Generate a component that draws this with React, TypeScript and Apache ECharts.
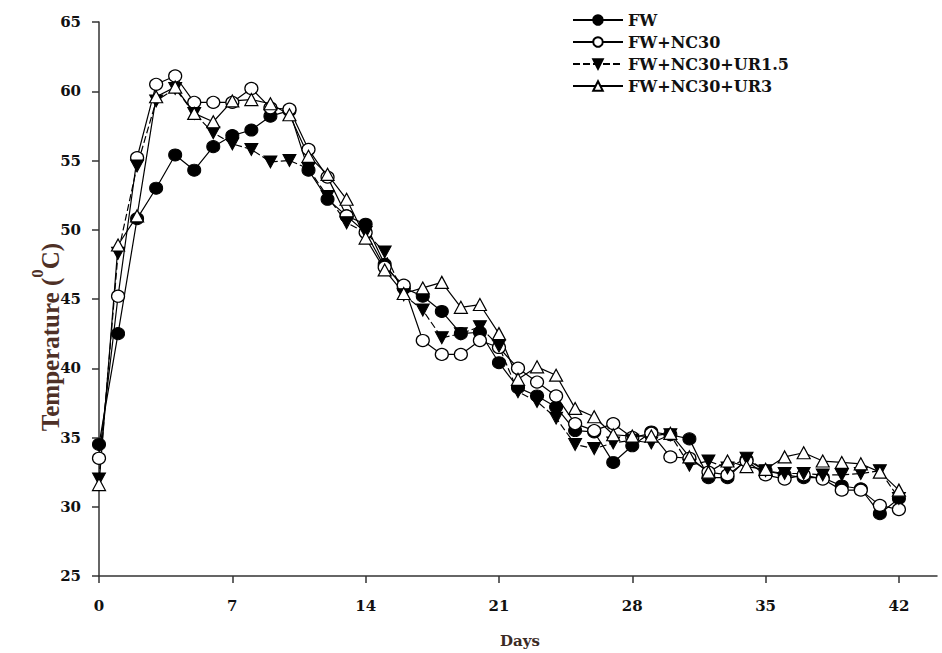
import React, { useEffect, useRef } from "react";
import * as echarts from "echarts";

const days = [0, 1, 2, 3, 4, 5, 6, 7, 8, 9, 10, 11, 12, 13, 14, 15, 16, 17, 18, 19, 20, 21, 22, 23, 24, 25, 26, 27, 28, 29, 30, 31, 32, 33, 34, 35, 36, 37, 38, 39, 40, 41, 42];

const xTicks = [0, 7, 14, 21, 28, 35, 42];

const seriesNames = ["FW", "FW+NC30", "FW+NC30+UR1.5", "FW+NC30+UR3"];

const fw = [34.5, 42.5, 50.8, 53.0, 55.4, 54.3, 56.0, 56.8, 57.2, 58.2, 58.6, 54.3, 52.2, 51.0, 50.4, 47.5, 45.8, 45.2, 44.1, 42.5, 42.6, 40.4, 38.6, 38.0, 37.2, 35.5, 35.4, 33.2, 34.4, 35.4, 35.2, 34.9, 32.1, 32.1, 33.4, 32.6, 32.3, 32.1, 32.1, 31.5, 31.3, 29.5, 30.6];

const fwNc30 = [33.5, 45.2, 55.2, 60.5, 61.1, 59.2, 59.2, 59.2, 60.2, 58.8, 58.7, 55.8, 53.8, 51.0, 49.8, 47.3, 46.0, 42.0, 41.0, 41.0, 42.0, 41.5, 40.0, 39.0, 38.0, 36.0, 35.5, 36.0, 35.0, 35.3, 33.6, 33.5, 32.5, 32.3, 33.3, 32.3, 32.0, 32.3, 32.0, 31.2, 31.2, 30.1, 29.8];

const fwNc30Ur15 = [32.0, 48.3, 54.6, 59.3, 60.2, 58.4, 57.0, 56.2, 55.8, 54.9, 55.0, 54.4, 52.4, 50.5, 49.8, 48.4, 45.3, 44.2, 42.2, 42.5, 43.0, 41.6, 38.3, 37.6, 36.4, 34.5, 34.2, 34.6, 34.8, 34.6, 35.2, 33.0, 33.3, 32.8, 33.5, 32.6, 32.4, 32.4, 32.3, 32.3, 32.4, 32.6, 30.6];

const fwNc30Ur3 = [31.6, 48.9, 51.0, 59.6, 60.3, 58.4, 57.8, 59.3, 59.4, 59.1, 58.3, 55.3, 54.0, 52.2, 49.4, 47.1, 45.4, 45.8, 46.2, 44.4, 44.6, 42.5, 39.2, 40.1, 39.5, 37.1, 36.5, 35.2, 35.1, 35.1, 35.3, 33.6, 32.5, 33.3, 32.9, 32.7, 33.6, 33.9, 33.3, 33.2, 33.1, 32.5, 31.2];

const pairs = (vals: number[]) => days.map((d, i) => [d, vals[i]]);

export default function App() {
  const ref = useRef<HTMLDivElement>(null);

  useEffect(() => {
    if (!ref.current) return;
    const chart = echarts.init(ref.current, undefined, { renderer: "svg" });
    const axisColor = "#333";
    const labelFont = {
      fontFamily: "DejaVu Serif",
      fontWeight: "bold" as const,
      fontSize: 15,
      color: "#111",
    };
    const symSize = [13, 12];
    const base = {
      type: "line" as const,
      showAllSymbol: true,
      symbolSize: symSize,
      emphasis: { disabled: true },
      z: 2,
    };
    const titleColor = "#4e3026";
    const option: any = {
      animation: false,
      backgroundColor: "#ffffff",
      grid: { left: 99, top: 22, right: 5, bottom: 77, containLabel: false },
      xAxis: {
        type: "value",
        min: 0,
        max: 44,
        axisLine: { show: true, onZero: false, lineStyle: { color: axisColor, width: 1.5 } },
        axisTick: { show: true, length: 7, customValues: xTicks, lineStyle: { color: axisColor, width: 1.5 } },
        axisLabel: { customValues: xTicks, margin: 22, ...labelFont },
        splitLine: { show: false },
      },
      yAxis: {
        type: "value",
        min: 25,
        max: 65,
        interval: 5,
        axisLine: { show: true, lineStyle: { color: axisColor, width: 1.5 } },
        axisTick: { show: true, length: 7, lineStyle: { color: axisColor, width: 1.5 } },
        axisLabel: { margin: 18, ...labelFont },
        splitLine: { show: false },
      },
      legend: {
        orient: "vertical",
        left: 567,
        top: 7,
        itemWidth: 50,
        itemHeight: 12,
        itemGap: 6,
        data: seriesNames,
        textStyle: { fontFamily: "DejaVu Serif", fontWeight: "bold", fontSize: 16, color: "#111" },
      },
      graphic: [
        {
          type: "text",
          x: 46,
          y: 337,
          rotation: Math.PI / 2,
          style: {
            text: "{a|Temperature (}{s|0}{a|C)}",
            align: "center",
            verticalAlign: "middle",
            rich: {
              a: { fontFamily: "Liberation Serif", fontWeight: "bold", fontSize: 25, fill: titleColor, verticalAlign: "bottom", lineHeight: 34 },
              s: { fontFamily: "Liberation Serif", fontWeight: "bold", fontSize: 17, fill: titleColor, verticalAlign: "top", lineHeight: 34 },
            },
          },
        },
        {
          type: "text",
          x: 520,
          y: 641,
          style: {
            text: "Days",
            fontFamily: "DejaVu Serif",
            fontWeight: "bold",
            fontSize: 15,
            fill: "#3b2b25",
            align: "center",
            verticalAlign: "middle",
          },
        },
      ],
      series: [
        {
          ...base,
          name: seriesNames[0],
          data: pairs(fw),
          symbol: "circle",
          lineStyle: { color: "#000", width: 1.2 },
          itemStyle: { color: "#000", borderColor: "#000", borderWidth: 1 },
        },
        {
          ...base,
          name: seriesNames[1],
          data: pairs(fwNc30),
          symbol: "circle",
          lineStyle: { color: "#000", width: 1.2 },
          itemStyle: { color: "#fff", borderColor: "#000", borderWidth: 1.2 },
        },
        {
          ...base,
          name: seriesNames[2],
          data: pairs(fwNc30Ur15),
          symbol: "triangle",
          symbolRotate: 180,
          lineStyle: { color: "#000", width: 1.2, type: [7, 3] },
          itemStyle: { color: "#000", borderColor: "#000", borderWidth: 1 },
        },
        {
          ...base,
          name: seriesNames[3],
          data: pairs(fwNc30Ur3),
          symbol: "triangle",
          lineStyle: { color: "#000", width: 1.2 },
          itemStyle: { color: "#fff", borderColor: "#000", borderWidth: 1.2 },
        },
      ],
    };
    chart.setOption(option);
    return () => chart.dispose();
  }, []);

  return (
    <div
      ref={ref}
      style={{ position: "absolute", left: 0, top: 0, width: 942, height: 653, background: "#fff" }}
    />
  );
}
